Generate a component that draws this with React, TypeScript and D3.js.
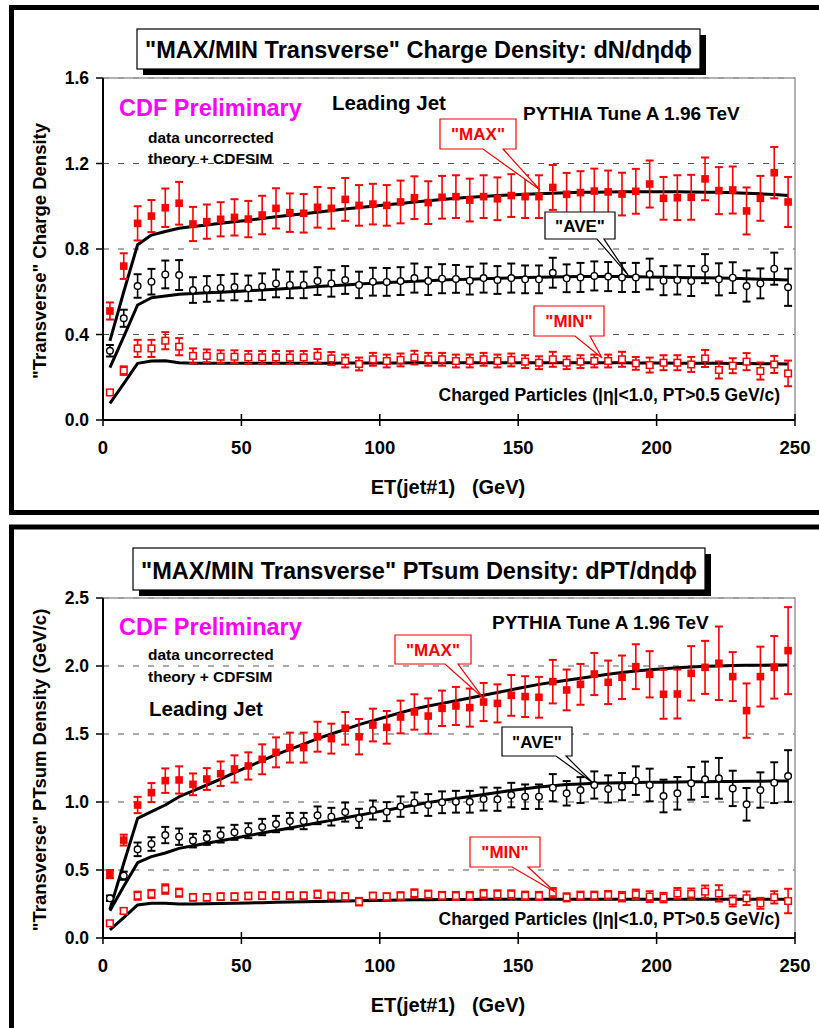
import React from 'react';
import * as d3 from 'd3';

// jet ET bin centres (GeV)
const ET = [
  2.5, 7.5, 12.5, 17.5, 22.5, 27.5, 32.5, 37.5, 42.5, 47.5,
  52.5, 57.5, 62.5, 67.5, 72.5, 77.5, 82.5, 87.5, 92.5, 97.5,
  102.5, 107.5, 112.5, 117.5, 122.5, 127.5, 132.5, 137.5, 142.5, 147.5,
  152.5, 157.5, 162.5, 167.5, 172.5, 177.5, 182.5, 187.5, 192.5, 197.5,
  202.5, 207.5, 212.5, 217.5, 222.5, 227.5, 232.5, 237.5, 242.5, 247.5,
];

// ---- charge density (top) ----
const chMax = [
  0.51, 0.72, 0.92, 0.954, 0.993, 1.014, 0.917, 0.928, 0.939, 0.948,
  0.94, 0.959, 0.99, 0.97, 0.967, 0.995, 0.99, 1.032, 1.004, 1.01,
  1.004, 1.02, 1.04, 1.017, 1.042, 1.045, 1.029, 1.045, 1.035, 1.05,
  1.045, 1.045, 1.088, 1.056, 1.064, 1.071, 1.067, 1.057, 1.07, 1.104,
  1.037, 1.04, 1.042, 1.128, 1.073, 1.076, 0.978, 1.037, 1.157, 1.02,
];
const chMaxErr = [
  0.04, 0.06, 0.08, 0.075, 0.09, 0.1, 0.08, 0.08, 0.08, 0.085,
  0.085, 0.09, 0.094, 0.09, 0.09, 0.095, 0.095, 0.1, 0.095, 0.095,
  0.095, 0.1, 0.1, 0.1, 0.1, 0.1, 0.1, 0.1, 0.1, 0.1,
  0.1, 0.1, 0.105, 0.1, 0.1, 0.105, 0.1, 0.1, 0.105, 0.11,
  0.1, 0.105, 0.105, 0.1, 0.11, 0.11, 0.11, 0.105, 0.12, 0.117,
];
const chAve = [
  0.324, 0.476, 0.627, 0.647, 0.681, 0.678, 0.608, 0.613, 0.618, 0.622,
  0.616, 0.624, 0.639, 0.632, 0.632, 0.65, 0.639, 0.655, 0.632, 0.647,
  0.646, 0.65, 0.664, 0.65, 0.661, 0.66, 0.652, 0.664, 0.655, 0.664,
  0.658, 0.658, 0.689, 0.663, 0.667, 0.674, 0.671, 0.667, 0.667, 0.683,
  0.652, 0.655, 0.65, 0.708, 0.658, 0.666, 0.627, 0.639, 0.708, 0.621,
];
const chAveErr = [
  0.027, 0.04, 0.055, 0.06, 0.065, 0.07, 0.06, 0.06, 0.06, 0.062,
  0.06, 0.062, 0.065, 0.062, 0.062, 0.065, 0.062, 0.065, 0.062, 0.065,
  0.065, 0.065, 0.068, 0.065, 0.068, 0.065, 0.065, 0.068, 0.065, 0.068,
  0.065, 0.065, 0.07, 0.065, 0.068, 0.068, 0.068, 0.068, 0.068, 0.072,
  0.068, 0.068, 0.07, 0.068, 0.075, 0.072, 0.073, 0.07, 0.075, 0.087,
];
const chMin = [
  0.129, 0.231, 0.335, 0.335, 0.371, 0.343, 0.3, 0.3, 0.296, 0.296,
  0.293, 0.293, 0.293, 0.292, 0.293, 0.3, 0.288, 0.276, 0.262, 0.284,
  0.276, 0.281, 0.292, 0.284, 0.284, 0.276, 0.276, 0.284, 0.276, 0.281,
  0.273, 0.268, 0.284, 0.268, 0.273, 0.276, 0.276, 0.284, 0.265, 0.257,
  0.268, 0.268, 0.26, 0.288, 0.234, 0.254, 0.273, 0.229, 0.26, 0.218,
];
const chMinErr = [
  0.01, 0.02, 0.04, 0.04, 0.04, 0.04, 0.035, 0.03, 0.03, 0.03,
  0.03, 0.03, 0.03, 0.03, 0.03, 0.032, 0.03, 0.03, 0.03, 0.03,
  0.03, 0.03, 0.032, 0.03, 0.03, 0.03, 0.03, 0.03, 0.03, 0.03,
  0.03, 0.03, 0.035, 0.03, 0.03, 0.03, 0.03, 0.035, 0.03, 0.035,
  0.035, 0.035, 0.035, 0.04, 0.04, 0.035, 0.04, 0.04, 0.04, 0.06,
];
const chThMax = [
  0.37, 0.6, 0.82, 0.865, 0.882, 0.897, 0.905, 0.912, 0.92, 0.928,
  0.935, 0.943, 0.951, 0.958, 0.965, 0.972, 0.98, 0.987, 0.994, 1.0,
  1.007, 1.013, 1.02, 1.026, 1.032, 1.037, 1.042, 1.046, 1.05, 1.053,
  1.056, 1.059, 1.061, 1.063, 1.065, 1.066, 1.067, 1.068, 1.068, 1.068,
  1.068, 1.068, 1.067, 1.066, 1.065, 1.063, 1.061, 1.058, 1.055, 1.05,
];
const chThAve = [
  0.245, 0.39, 0.538, 0.572, 0.58, 0.588, 0.592, 0.595, 0.598, 0.601,
  0.605, 0.608, 0.612, 0.616, 0.62, 0.624, 0.628, 0.632, 0.636, 0.64,
  0.643, 0.646, 0.649, 0.652, 0.655, 0.657, 0.659, 0.661, 0.663, 0.665,
  0.667, 0.668, 0.669, 0.67, 0.671, 0.671, 0.671, 0.671, 0.67, 0.669,
  0.668, 0.667, 0.666, 0.665, 0.664, 0.663, 0.661, 0.659, 0.657, 0.655,
];
const chThMin = [
  0.078, 0.17, 0.265, 0.276, 0.277, 0.268, 0.265, 0.265, 0.265, 0.265,
  0.265, 0.265, 0.266, 0.266, 0.266, 0.266, 0.266, 0.267, 0.267, 0.267,
  0.267, 0.267, 0.268, 0.268, 0.268, 0.268, 0.268, 0.268, 0.268, 0.268,
  0.268, 0.268, 0.268, 0.268, 0.268, 0.268, 0.268, 0.268, 0.267, 0.267,
  0.267, 0.266, 0.266, 0.265, 0.265, 0.264, 0.264, 0.263, 0.263, 0.262,
];

// ---- PTsum density (bottom) ----
const ptMax = [
  0.47, 0.72, 0.978, 1.069, 1.157, 1.162, 1.13, 1.169, 1.208, 1.243,
  1.265, 1.314, 1.365, 1.4, 1.4, 1.48, 1.466, 1.542, 1.48, 1.566,
  1.549, 1.625, 1.662, 1.632, 1.689, 1.706, 1.694, 1.735, 1.725, 1.784,
  1.775, 1.77, 1.885, 1.824, 1.865, 1.941, 1.88, 1.917, 1.995, 1.939,
  1.792, 1.794, 1.946, 1.99, 2.02, 1.922, 1.672, 1.922, 1.99, 2.113,
];
const ptMaxErr = [
  0.03, 0.04, 0.06, 0.07, 0.09, 0.1, 0.08, 0.08, 0.09, 0.1,
  0.1, 0.11, 0.11, 0.11, 0.11, 0.11, 0.11, 0.12, 0.13, 0.12,
  0.12, 0.12, 0.13, 0.13, 0.13, 0.14, 0.14, 0.14, 0.14, 0.15,
  0.15, 0.15, 0.16, 0.15, 0.15, 0.155, 0.16, 0.16, 0.165, 0.17,
  0.18, 0.18, 0.2, 0.195, 0.27, 0.18, 0.2, 0.22, 0.23, 0.32,
];
const ptAve = [
  0.292, 0.458, 0.652, 0.691, 0.757, 0.745, 0.716, 0.735, 0.757, 0.777,
  0.789, 0.816, 0.838, 0.86, 0.86, 0.902, 0.892, 0.926, 0.88, 0.941,
  0.929, 0.966, 0.995, 0.978, 0.998, 1.002, 1.002, 1.022, 1.02, 1.051,
  1.039, 1.039, 1.105, 1.064, 1.088, 1.125, 1.096, 1.113, 1.157, 1.125,
  1.044, 1.064, 1.137, 1.167, 1.174, 1.1, 0.983, 1.088, 1.142, 1.191,
];
const ptAveErr = [
  0.02, 0.03, 0.05, 0.05, 0.06, 0.06, 0.05, 0.05, 0.055, 0.055,
  0.055, 0.06, 0.06, 0.06, 0.06, 0.065, 0.065, 0.07, 0.07, 0.07,
  0.07, 0.075, 0.075, 0.08, 0.08, 0.08, 0.08, 0.085, 0.085, 0.09,
  0.09, 0.09, 0.1, 0.09, 0.095, 0.1, 0.1, 0.1, 0.105, 0.12,
  0.12, 0.12, 0.12, 0.13, 0.15, 0.13, 0.12, 0.13, 0.15, 0.19,
];
const ptMin = [
  0.108, 0.199, 0.311, 0.324, 0.36, 0.333, 0.299, 0.299, 0.304, 0.304,
  0.309, 0.311, 0.311, 0.311, 0.311, 0.321, 0.309, 0.304, 0.267, 0.309,
  0.304, 0.309, 0.328, 0.321, 0.311, 0.309, 0.309, 0.324, 0.321, 0.321,
  0.311, 0.309, 0.333, 0.299, 0.311, 0.311, 0.316, 0.304, 0.321, 0.304,
  0.297, 0.328, 0.324, 0.341, 0.328, 0.272, 0.292, 0.255, 0.299, 0.272,
];
const ptMinErr = [
  0.015, 0.02, 0.03, 0.03, 0.035, 0.03, 0.025, 0.025, 0.025, 0.025,
  0.025, 0.025, 0.025, 0.025, 0.025, 0.028, 0.025, 0.025, 0.028, 0.025,
  0.025, 0.028, 0.03, 0.028, 0.028, 0.03, 0.03, 0.03, 0.03, 0.03,
  0.03, 0.03, 0.035, 0.03, 0.03, 0.03, 0.03, 0.035, 0.035, 0.04,
  0.035, 0.04, 0.04, 0.045, 0.06, 0.04, 0.05, 0.04, 0.045, 0.09,
];
const ptThMax = [
  0.21, 0.55, 0.88, 0.929, 0.978, 1.039, 1.081, 1.125, 1.169, 1.216,
  1.26, 1.304, 1.348, 1.387, 1.426, 1.466, 1.5, 1.534, 1.569, 1.598,
  1.627, 1.657, 1.684, 1.706, 1.725, 1.745, 1.765, 1.785, 1.805, 1.825,
  1.845, 1.865, 1.88, 1.895, 1.91, 1.925, 1.94, 1.952, 1.963, 1.972,
  1.98, 1.987, 1.993, 1.998, 2.0, 2.003, 2.005, 2.006, 2.007, 2.008,
];
const ptThAve = [
  0.2, 0.38, 0.554, 0.598, 0.625, 0.659, 0.678, 0.697, 0.715, 0.734,
  0.753, 0.772, 0.79, 0.809, 0.828, 0.847, 0.865, 0.884, 0.903, 0.922,
  0.94, 0.959, 0.978, 0.996, 1.012, 1.025, 1.04, 1.055, 1.07, 1.085,
  1.098, 1.11, 1.12, 1.128, 1.133, 1.137, 1.14, 1.142, 1.144, 1.145,
  1.146, 1.147, 1.148, 1.149, 1.15, 1.151, 1.152, 1.153, 1.154, 1.155,
];
const ptThMin = [
  0.06, 0.15, 0.243, 0.255, 0.255, 0.25, 0.25, 0.252, 0.254, 0.256,
  0.258, 0.26, 0.262, 0.264, 0.266, 0.268, 0.27, 0.272, 0.274, 0.276,
  0.278, 0.28, 0.281, 0.282, 0.283, 0.284, 0.284, 0.285, 0.285, 0.285,
  0.285, 0.285, 0.285, 0.285, 0.285, 0.285, 0.285, 0.285, 0.285, 0.285,
  0.285, 0.285, 0.285, 0.285, 0.285, 0.285, 0.285, 0.285, 0.285, 0.285,
];

const xTicks = [0, 50, 100, 150, 200, 250];
const chTicks = [0, 0.4, 0.8, 1.2, 1.6];
const ptTicks = [0, 0.5, 1.0, 1.5, 2.0, 2.5];

const FONT = '"Liberation Sans", Arial, Helvetica, sans-serif';
const RED = '#ff0000';
const MAGENTA = '#ff00ff';

type CalloutDef = {
  label: string;
  color: string;
  box: [number, number, number, number]; // left, top, right, bottom (px)
  base: [number, number]; // pointer base x range on box bottom
  tip: [number, number]; // data coords
};

type PanelProps = {
  top: number;
  bottom: number;
  yMax: number;
  yTicks: number[];
  title: string;
  titleBox: [number, number, number, number];
  yLabel: string;
  max: number[]; maxErr: number[];
  ave: number[]; aveErr: number[];
  min: number[]; minErr: number[];
  thMax: number[]; thAve: number[]; thMin: number[];
  callouts: CalloutDef[];
  notes: { text: string; x: number; y: number; size: number; color?: string; anchor?: string }[];
};

function Panel(p: PanelProps) {
  const x = d3.scaleLinear().domain([0, 250]).range([103, 795]);
  const y = d3.scaleLinear().domain([0, p.yMax]).range([p.bottom, p.top]);
  const line = d3.line<number>().x((_, i) => x(ET[i])).y(d => y(d));
  const [bl, bt, br, bb] = p.titleBox;

  const errBars = (vals: number[], errs: number[], color: string) =>
    vals.map((v, i) => {
      const cx = x(ET[i]);
      const y1 = y(v - errs[i]);
      const y2 = y(v + errs[i]);
      return (
        <g key={i} stroke={color} strokeWidth={1.6}>
          <line x1={cx} x2={cx} y1={y1} y2={y2} />
          <line x1={cx - 4} x2={cx + 4} y1={y1} y2={y1} strokeWidth={2} />
          <line x1={cx - 4} x2={cx + 4} y1={y2} y2={y2} strokeWidth={2} />
        </g>
      );
    });

  return (
    <g fontFamily={FONT} fontWeight="bold">
      {/* gridlines */}
      {p.yTicks.slice(1).map(t => (
        <line key={t} x1={x(0)} x2={x(250)} y1={y(t)} y2={y(t)}
          stroke="#555" strokeWidth={1} strokeDasharray="6,9" />
      ))}
      {/* frame top/right */}
      <path d={`M${x(0)},${y(p.yMax)}H${x(250)}V${y(0)}`} fill="none" stroke="#999" strokeWidth={1.5} />
      {/* axes */}
      <line x1={x(0)} x2={x(250)} y1={y(0)} y2={y(0)} stroke="#000" strokeWidth={2} />
      <line x1={x(0)} x2={x(0)} y1={y(0)} y2={y(p.yMax)} stroke="#000" strokeWidth={2} />
      {xTicks.map(t => (
        <g key={t}>
          <line x1={x(t)} x2={x(t)} y1={y(0) - 6} y2={y(0) + 6} stroke="#000" strokeWidth={1.5} />
          <text x={x(t)} y={y(0) + 34} fontSize={18.5} textAnchor="middle">{t}</text>
        </g>
      ))}
      {p.yTicks.map(t => (
        <g key={t}>
          <line x1={x(0) - 7} x2={x(0)} y1={y(t)} y2={y(t)} stroke="#000" strokeWidth={1.5} />
          <text x={89} y={y(t)} dy="0.35em" fontSize={17.5} textAnchor="end">{t.toFixed(1)}</text>
        </g>
      ))}
      <text x={448} y={y(0) + 74} fontSize={20} textAnchor="middle" style={{ whiteSpace: 'pre' }}>
        {'ET(jet#1)   (GeV)'}
      </text>
      <text transform={`translate(46,${(p.top + p.bottom) / 2 + 2}) rotate(-90)`} fontSize={18.5} textAnchor="middle">
        {p.yLabel}
      </text>

      {/* theory curves */}
      {[p.thMax, p.thAve, p.thMin].map((s, k) => (
        <path key={k} d={line(s) || ''} fill="none" stroke="#000" strokeWidth={3} strokeLinejoin="round" />
      ))}

      {/* data */}
      {errBars(p.max, p.maxErr, RED)}
      {errBars(p.ave, p.aveErr, '#000')}
      {errBars(p.min, p.minErr, RED)}
      {p.max.map((v, i) => (
        <rect key={i} x={x(ET[i]) - 3.8} y={y(v) - 3.8} width={7.6} height={7.6} fill={RED} />
      ))}
      {p.ave.map((v, i) => (
        <circle key={i} cx={x(ET[i])} cy={y(v)} r={3.3} fill="#fff" stroke="#000" strokeWidth={1.4} />
      ))}
      {p.min.map((v, i) => (
        <rect key={i} x={x(ET[i]) - 3.3} y={y(v) - 3.3} width={6.6} height={6.6} fill="#fff" stroke={RED} strokeWidth={1.5} />
      ))}

      {/* notes */}
      {p.notes.map((n, i) => (
        <text key={i} x={n.x} y={n.y} fontSize={n.size} fill={n.color || '#000'} textAnchor={n.anchor || 'start'}>
          {n.text}
        </text>
      ))}

      {/* callouts */}
      {p.callouts.map((c, i) => {
        const [l, t, r, b] = c.box;
        const tx = x(c.tip[0]);
        const ty = y(c.tip[1]);
        const d = `M${l},${t}H${r}V${b}H${c.base[1]}L${tx},${ty}L${c.base[0]},${b}H${l}Z`;
        return (
          <g key={i}>
            <path d={d} fill="#fff" stroke={c.color} strokeWidth={1.2} />
            <text x={(l + r) / 2} y={(t + b) / 2} dy="0.36em" fontSize={17} fill={c.color} textAnchor="middle">
              {c.label}
            </text>
          </g>
        );
      })}

      {/* title box */}
      <rect x={bl + 6} y={bt + 6} width={br - bl} height={bb - bt} fill="#000" />
      <rect x={bl} y={bt} width={br - bl} height={bb - bt} fill="#fff" stroke="#000" strokeWidth={1.2} />
      <text x={(bl + br) / 2} y={bb - 11} fontSize={24} textAnchor="middle"
        textLength={br - bl - 16} lengthAdjust="spacingAndGlyphs">
        {p.title}
      </text>
    </g>
  );
}

export default function App() {
  return (
    <svg width={819} height={1028} style={{ position: 'absolute', left: 0, top: 0, background: '#fff' }}>
      <rect x={0} y={0} width={819} height={1028} fill="#fff" />
      <rect x={11.5} y={7.5} width={830} height={505} fill="none" stroke="#000" strokeWidth={5} />
      <rect x={11.5} y={527} width={830} height={530} fill="none" stroke="#000" strokeWidth={5} />

      <Panel
        top={78} bottom={420} yMax={1.6} yTicks={chTicks}
        title={'"MAX/MIN Transverse" Charge Density: dN/dηdϕ'}
        titleBox={[137, 29, 700, 69]}
        yLabel={'"Transverse" Charge Density'}
        max={chMax} maxErr={chMaxErr} ave={chAve} aveErr={chAveErr} min={chMin} minErr={chMinErr}
        thMax={chThMax} thAve={chThAve} thMin={chThMin}
        notes={[
          { text: 'CDF Preliminary', x: 119, y: 116, size: 23.5, color: MAGENTA },
          { text: 'data uncorrected', x: 148, y: 143, size: 15.5 },
          { text: 'theory + CDFSIM', x: 148, y: 164, size: 15.5 },
          { text: 'Leading Jet', x: 332, y: 110, size: 20.5 },
          { text: 'PYTHIA Tune A 1.96 TeV', x: 523, y: 120, size: 19 },
          { text: 'Charged Particles (|η|<1.0, PT>0.5 GeV/c)', x: 780, y: 401, size: 17.5, anchor: 'end' },
        ]}
        callouts={[
          { label: '"MAX"', color: RED, box: [440, 119, 516, 149], base: [483, 503], tip: [157.9, 1.076] },
          { label: '"AVE"', color: '#000', box: [545, 212, 615, 239], base: [597, 604], tip: [189.7, 0.678] },
          { label: '"MIN"', color: RED, box: [534, 306, 604, 336], base: [575, 590], tip: [180.3, 0.29] },
        ]}
      />
      <Panel
        top={598} bottom={938} yMax={2.5} yTicks={ptTicks}
        title={'"MAX/MIN Transverse" PTsum Density: dPT/dηdϕ'}
        titleBox={[133, 548, 705, 590]}
        yLabel={'"Transverse" PTsum Density (GeV/c)'}
        max={ptMax} maxErr={ptMaxErr} ave={ptAve} aveErr={ptAveErr} min={ptMin} minErr={ptMinErr}
        thMax={ptThMax} thAve={ptThAve} thMin={ptThMin}
        notes={[
          { text: 'CDF Preliminary', x: 119, y: 635, size: 23.5, color: MAGENTA },
          { text: 'data uncorrected', x: 148, y: 660, size: 15.5 },
          { text: 'theory + CDFSIM', x: 148, y: 682, size: 15.5 },
          { text: 'Leading Jet', x: 149, y: 716, size: 20.5 },
          { text: 'PYTHIA Tune A 1.96 TeV', x: 492, y: 629, size: 19 },
          { text: 'Charged Particles (|η|<1.0, PT>0.5 GeV/c)', x: 780, y: 925, size: 17.5, anchor: 'end' },
        ]}
        callouts={[
          { label: '"MAX"', color: RED, box: [395, 635, 471, 664], base: [445, 458], tip: [137.3, 1.765] },
          { label: '"AVE"', color: '#000', box: [502, 727, 572, 756], base: [556, 566], tip: [177, 1.14] },
          { label: '"MIN"', color: RED, box: [470, 837, 540, 867], base: [512, 528], tip: [163.3, 0.338] },
        ]}
      />
    </svg>
  );
}
